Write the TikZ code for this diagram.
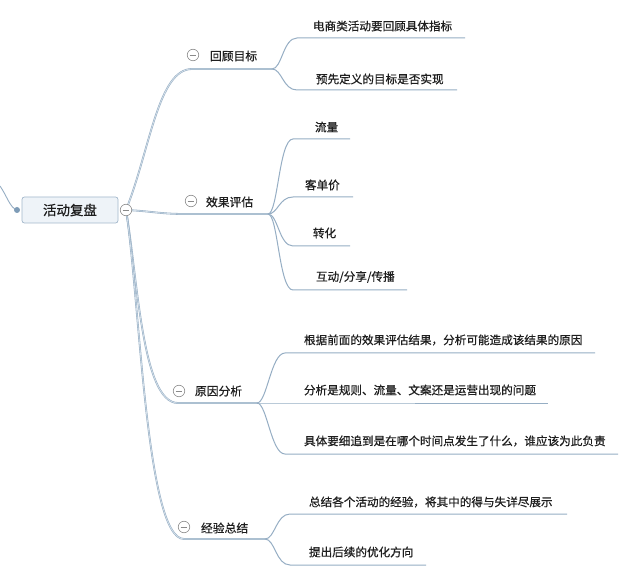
\documentclass[tikz,border=0pt]{standalone}
\usepackage{fontspec}
\setmainfont{Noto Sans CJK SC}[RawFeature={embolden=0.6}]
\usetikzlibrary{calc}
\begin{document}
\begin{tikzpicture}[x=1pt,y=-1pt,
  every node/.style={inner sep=0pt, outer sep=0pt},
  branch/.style={draw=lineblue, line width=0.55pt, double=linefill, double distance=0.7pt},
  uline/.style={draw=lineblue, line width=1pt},
  leaf/.style={anchor=west, text=txt, font=\fontsize{11.6}{13}\selectfont},
  topic/.style={anchor=west, text=txt, font=\fontsize{11.8}{13}\selectfont},
  circ/.style={circle, draw=circgray, fill=white, line width=0.6pt, minimum size=11.5pt},
  rootbox/.style={draw=rootborder, fill=rootfill, rounded corners=2.5pt, line width=0.7pt,
     minimum width=96pt, minimum height=26pt, text=txt, font=\fontsize{13.5}{15}\selectfont}
]
\definecolor{lineblue}{HTML}{96AEC4}
\definecolor{linefill}{HTML}{D6E1EB}
\definecolor{txt}{HTML}{1E1E1E}
\definecolor{circgray}{HTML}{8A8A8A}
\definecolor{rootborder}{HTML}{A3B8CB}
\definecolor{rootfill}{HTML}{EEF3F8}
\definecolor{dotblue}{HTML}{7E9CB7}
\fill[white] (0,0) rectangle (640,585);
\useasboundingbox (0,0) rectangle (640,585);

% coordinates
\coordinate (rc) at (126,210);
\coordinate (lin) at (0,186);
\coordinate (dot) at (17,210);
% branch 1
\coordinate (b1s) at (192,69); \coordinate (b1j) at (272,69);
\coordinate (c11s) at (297,38); \coordinate (c11e) at (465,38);
\coordinate (c12s) at (297,90); \coordinate (c12e) at (457,90);
% branch 2
\coordinate (b2s) at (185,214); \coordinate (b2j) at (268,214);
\coordinate (c21s) at (293,139); \coordinate (c21e) at (350,139);
\coordinate (c22s) at (293,197); \coordinate (c22e) at (353,197);
\coordinate (c23s) at (293,246); \coordinate (c23e) at (350,246);
\coordinate (c24s) at (293,290); \coordinate (c24e) at (407,290);
% branch 3
\coordinate (b3s) at (178,403); \coordinate (b3j) at (257,403);
\coordinate (c31s) at (285,353); \coordinate (c31e) at (595,353);
\coordinate (c32s) at (285,403); \coordinate (c32e) at (548,403);
\coordinate (c33s) at (285,454); \coordinate (c33e) at (618,454);
% branch 4
\coordinate (b4s) at (184,539); \coordinate (b4j) at (265,539);
\coordinate (c41s) at (290,514); \coordinate (c41e) at (567,514);
\coordinate (c42s) at (290,565); \coordinate (c42e) at (426,565);

% incoming link
\draw[lineblue, line width=0.9pt] (lin) .. controls (7,196) and (10,208) .. (dot);
\fill[dotblue] (dot) circle (3pt);

% main branches
\draw[branch] (rc) .. controls (150,150) and (158,69) .. (b1s) -- (b1j);
\draw[branch] (rc) .. controls (150,211) and (160,214) .. (b2s) -- (b2j);
\draw[branch] (rc) .. controls (138,280) and (142,403) .. (b3s) -- (b3j);
\draw[branch] (rc) .. controls (140,300) and (146,539) .. (b4s) -- (b4j);

% children lines
\foreach \j/\s/\e in {b1j/c11s/c11e, b1j/c12s/c12e,
  b2j/c21s/c21e, b2j/c22s/c22e, b2j/c23s/c23e, b2j/c24s/c24e,
  b3j/c31s/c31e, b3j/c32s/c32e, b3j/c33s/c33e,
  b4j/c41s/c41e, b4j/c42s/c42e}{
  \draw[uline] (\j) .. controls ($(\j)+(10,0)$) and ($(\s)+(-14,0)$) .. (\s) -- (\e);
}

% root
\node[rootbox] (root) at (70,210) {活动复盘};
\node[circ] (rcirc) at (rc) {};
\draw[circgray, line width=0.7pt] ($(rc)+(-3.3,0)$) -- ($(rc)+(3.3,0)$);

% topic circles and labels
\foreach \n/\p in {k1/{(193,55)}, k2/{(191,201)}, k3/{(179,391)}, k4/{(184,527)}}{
  \node[circ] (\n) at \p {};
  \draw[circgray, line width=0.7pt] ($(\n.center)+(-3.3,0)$) -- ($(\n.center)+(3.3,0)$);
}
\node[topic] (t1) at (210,56) {回顾目标};
\node[topic] (t2) at (206,202) {效果评估};
\node[topic] (t3) at (195,391) {原因分析};
\node[topic] (t4) at (201,528) {经验总结};

% leaves
\node[leaf] (l11) at (313,26) {电商类活动要回顾具体指标};
\node[leaf] (l12) at (316,79) {预先定义的目标是否实现};
\node[leaf] (l21) at (315,127) {流量};
\node[leaf] (l22) at (305,185) {客单价};
\node[leaf] (l23) at (313,233) {转化};
\node[leaf] (l24) at (316,277) {互动/分享/传播};
\node[leaf] (l31) at (304,340) {根据前面的效果评估结果，分析可能造成该结果的原因};
\node[leaf] (l32) at (304,390) {分析是规则、流量、文案还是运营出现的问题};
\node[leaf] (l33) at (304,441) {具体要细追到是在哪个时间点发生了什么，谁应该为此负责};
\node[leaf] (l41) at (309,502) {总结各个活动的经验，将其中的得与失详尽展示};
\node[leaf] (l42) at (309,552) {提出后续的优化方向};
\end{tikzpicture}
\end{document}
